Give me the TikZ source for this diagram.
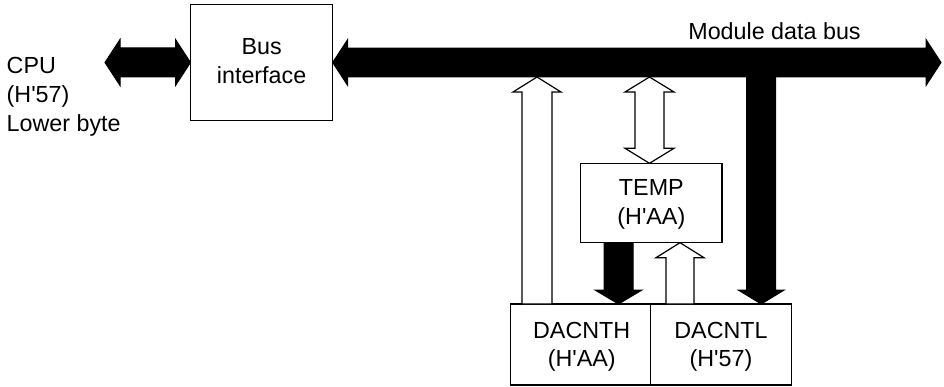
\documentclass[tikz,border=0pt]{standalone}
\usepackage{fontspec}
\setmainfont{Liberation Sans}
% horizontal double block arrow: style, y centre, x left tip, x right tip, shaft half, head half
\newcommand\myHDouble[6]{\draw[#1] (#3,#2) -- ({#3+15},{#2-#6}) -- ({#3+15},{#2-#5}) -- ({#4-15},{#2-#5}) -- ({#4-15},{#2-#6}) -- (#4,#2) -- ({#4-15},{#2+#6}) -- ({#4-15},{#2+#5}) -- ({#3+15},{#2+#5}) -- ({#3+15},{#2+#6}) -- cycle;}
% vertical block arrow pointing up: style, x centre, y tail, y tip, shaft half, head half
\newcommand\myUp[6]{\draw[#1] ({#2-#5},#3) -- ({#2-#5},{#4+15}) -- ({#2-#6},{#4+15}) -- (#2,#4) -- ({#2+#6},{#4+15}) -- ({#2+#5},{#4+15}) -- ({#2+#5},#3) -- cycle;}
% vertical block arrow pointing down
\newcommand\myDown[6]{\draw[#1] ({#2-#5},#3) -- ({#2-#5},{#4-14}) -- ({#2-#6},{#4-14}) -- (#2,#4) -- ({#2+#6},{#4-14}) -- ({#2+#5},{#4-14}) -- ({#2+#5},#3) -- cycle;}
% vertical double block arrow: style, x centre, y top tip, y bottom tip, shaft half, head half
\newcommand\myVDouble[6]{\draw[#1] (#2,#3) -- ({#2+#6},{#3+15}) -- ({#2+#5},{#3+15}) -- ({#2+#5},{#4-15}) -- ({#2+#6},{#4-15}) -- (#2,#4) -- ({#2-#6},{#4-15}) -- ({#2-#5},{#4-15}) -- ({#2-#5},{#3+15}) -- ({#2-#6},{#3+15}) -- cycle;}
\newcommand\sq{\textquotesingle}
\begin{document}
\begin{tikzpicture}[x=1pt,y=-1pt,
  box/.style={draw=black,line width=1.2pt,inner sep=0pt},
  lbl/.style={anchor=base,inner sep=0pt,font=\fontsize{23.3}{28}\selectfont},
  lbll/.style={anchor=base west,inner sep=0pt,font=\fontsize{23.3}{28}\selectfont},
  solidarr/.style={draw=black,fill=black,line width=1pt,line join=miter},
  hollowarr/.style={draw=black,fill=white,line width=1.2pt,line join=miter}]
\useasboundingbox (0,0) rectangle (944,387);

% boxes
\node[box,minimum width=142.2pt,minimum height=116.5pt] (busif) at (261.6,62.5) {};
\node[box,minimum width=141.3pt,minimum height=79.4pt] (temp) at (651.35,203) {};
\node[box,minimum width=139.6pt,minimum height=81pt] (dacnth) at (580.5,344.5) {};
\node[box,minimum width=141.4pt,minimum height=81pt] (dacntl) at (721,344.5) {};

% block arrows
\myHDouble{solidarr}{62.5}{105}{190.5}{14.5}{23}
\myHDouble{solidarr}{62.5}{332.7}{941}{14.4}{23}
\myDown{solidarr}{761.2}{76}{304}{14.5}{23}
\myUp{hollowarr}{537}{304}{77}{15}{24}
\myVDouble{hollowarr}{649.5}{77}{163.3}{14.5}{24.5}
\myDown{solidarr}{618.5}{242.7}{304}{14.5}{23.5}
\myUp{hollowarr}{680}{304}{242.7}{14}{24}

% texts
\node[lbll] (cpu1) at (6.5,73.3) {CPU};
\node[lbll] (cpu2) at (6.5,102.5) {(H\sq57)};
\node[lbll] (cpu3) at (6.5,131.7) {Lower byte};
\node[lbl] (bus1) at (261.6,55) {Bus};
\node[lbl] (bus2) at (261.6,83.3) {interface};
\node[lbl] (mdb) at (774.5,40) {Module data bus};
\node[lbl] (temp1) at (651.35,196) {TEMP};
\node[lbl] (temp2) at (651.35,225) {(H\sq AA)};
\node[lbl] (h1) at (581.7,338.3) {DACNTH};
\node[lbl] (h2) at (581.7,366) {(H\sq AA)};
\node[lbl] (l1) at (721,338.3) {DACNTL};
\node[lbl] (l2) at (721,366) {(H\sq57)};
\end{tikzpicture}
\end{document}
